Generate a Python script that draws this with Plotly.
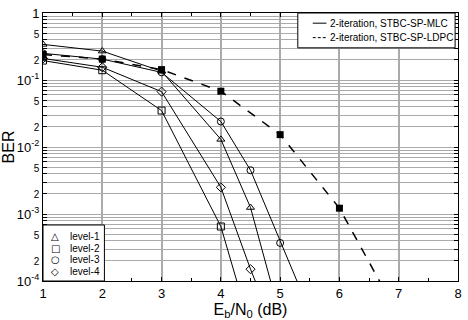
import plotly.graph_objects as go

# ---- data ----
x_level1 = [1, 2, 3, 4, 4.5, 5]
ber_level1 = [0.34, 0.27, 0.135, 0.013, 1.25e-3, 3e-5]
x_level2 = [1, 2, 3, 4, 4.5]
ber_level2 = [0.195, 0.14, 0.035, 6.5e-4, 2e-5]
x_level3 = [1, 2, 3, 4, 4.5, 5, 5.5]
ber_level3 = [0.25, 0.205, 0.13, 0.024, 4.5e-3, 3.7e-4, 3.5e-5]
x_level4 = [1, 2, 3, 4, 4.5, 5]
ber_level4 = [0.21, 0.155, 0.067, 2.5e-3, 1.5e-4, 1.2e-5]
x_ldpc = [1, 2, 3, 4, 5, 6, 7]
ber_ldpc = [0.24, 0.205, 0.143, 0.068, 0.0153, 1.22e-3, 3e-5]

level_names = ["level-1", "level-2", "level-3", "level-4"]
level_symbols = ["triangle-up-open", "square-open", "circle-open", "diamond-open"]
level_glyphs = ["\u25B3", "\u25A1", "\u25CB", "\u25C7"]
scheme_names = ["2-iteration, STBC-SP-MLC", "2-iteration, STBC-SP-LDPC"]
scheme_dash = ["solid", "3px,2px"]

x_ticks = [1, 2, 3, 4, 5, 6, 7, 8]

FONT = "Liberation Sans, Arial, Helvetica, sans-serif"

fig = go.Figure()

level_x = [x_level1, x_level2, x_level3, x_level4]
level_y = [ber_level1, ber_level2, ber_level3, ber_level4]
for name, xs, ys, sym in zip(level_names, level_x, level_y, level_symbols):
    fig.add_trace(go.Scatter(
        x=xs, y=ys, mode="lines+markers", name=name, showlegend=False,
        line=dict(color="black", width=1),
        marker=dict(symbol=sym, size=7, color="black", line=dict(width=1, color="black")),
    ))

fig.add_trace(go.Scatter(
    x=x_ldpc, y=ber_ldpc, mode="lines+markers", name=scheme_names[1], showlegend=False,
    line=dict(color="black", width=1.5, dash="dash"),
    marker=dict(symbol="square", size=7, color="black"),
))

# y ticks
yvals, ytext = [], []
for e in range(-4, 1):
    for m in range(1, 10):
        v = m * 10.0 ** e
        if v > 1.0001:
            continue
        yvals.append(v)
        if m == 1:
            ytext.append("1" if e == 0 else "10<sup>%d</sup>" % e)
        elif m in (2, 5) and e < 0:
            ytext.append('<span style="font-size:10px">%d</span>' % m)
        else:
            ytext.append(" ")

# ---- legends drawn in paper coordinates (plot area) ----
shapes = []
annotations = []
# legend 1: line styles, top-right
shapes.append(dict(type="rect", xref="paper", yref="paper", x0=0.614, x1=0.993, y0=0.870, y1=1.0,
                   line=dict(color="black", width=1), fillcolor="white", layer="above"))
for i, (nm, dsh) in enumerate(zip(scheme_names, scheme_dash)):
    yy = 0.962 - i * 0.054
    shapes.append(dict(type="line", xref="paper", yref="paper", x0=0.650, x1=0.683, y0=yy, y1=yy,
                       line=dict(color="black", width=1, dash=dsh),
                       layer="above"))
    annotations.append(dict(xref="paper", yref="paper", x=0.688, y=yy, text=nm, showarrow=False,
                            xanchor="left", yanchor="middle", borderpad=0,
                            font=dict(size=10)))
# legend 2: markers, bottom-left
shapes.append(dict(type="rect", xref="paper", yref="paper", x0=0.0, x1=0.148, y0=0.0, y1=0.209,
                   line=dict(color="black", width=1), fillcolor="white", layer="above"))
for i, (nm, gl) in enumerate(zip(level_names, level_glyphs)):
    yy = 0.165 - i * 0.043
    annotations.append(dict(xref="paper", yref="paper", x=0.029, y=yy, text=gl, showarrow=False,
                            xanchor="center", yanchor="middle", borderpad=0,
                            font=dict(size=10, family="DejaVu Sans")))
    annotations.append(dict(xref="paper", yref="paper", x=0.062, y=yy, text=nm, showarrow=False,
                            xanchor="left", yanchor="middle", borderpad=0,
                            font=dict(size=10)))

fig.update_layout(
    width=468, height=320,
    margin=dict(l=40, r=8, t=6, b=37),
    paper_bgcolor="white", plot_bgcolor="white",
    font=dict(family=FONT, color="black", size=13),
    showlegend=False,
    shapes=shapes, annotations=annotations,
    xaxis=dict(
        range=[1, 8], tickvals=x_ticks, ticktext=[str(v) for v in x_ticks],
        showgrid=True, gridcolor="#aaaaaa", gridwidth=1.5,
        showline=True, linecolor="black", linewidth=1, mirror="allticks",
        ticks="inside", ticklen=4, tickcolor="black",
        minor=dict(dtick=0.5, ticks="inside", ticklen=3, tickcolor="black", showgrid=False),
        zeroline=False,
        title=dict(text="E<sub>b</sub>/N<sub>0</sub> (dB)", font=dict(size=16), standoff=2),
        tickfont=dict(size=13),
    ),
    yaxis=dict(
        type="log", range=[-4, 0], tickvals=yvals, ticktext=ytext,
        showgrid=True, gridcolor="#aaaaaa", gridwidth=1,
        showline=True, linecolor="black", linewidth=1, mirror="allticks",
        ticks="inside", ticklen=4, tickcolor="black",
        zeroline=False, ticklabeloverflow="allow",
        title=dict(text="BER", font=dict(size=16), standoff=0),
        tickfont=dict(size=13),
    ),
)

fig.write_html("out.html")
